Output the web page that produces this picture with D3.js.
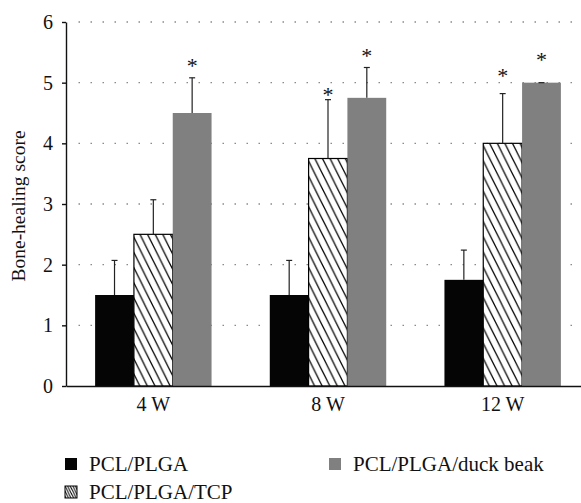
<!DOCTYPE html>
<html>
<head>
<meta charset="utf-8">
<script src="https://cdn.jsdelivr.net/npm/d3@7"></script>
<style>
  body { margin: 0; background: #fff; }
  text { font-family: "Liberation Serif", "Times New Roman", serif; fill: #111; }
</style>
</head>
<body>
<div class="canvas"></div>
<script>
// Data
const groups = ["4 W", "8 W", "12 W"];
const series = ["PCL/PLGA", "PCL/PLGA/TCP", "PCL/PLGA/duck beak"];
const means = [
  [1.5, 2.5, 4.5],
  [1.5, 3.75, 4.75],
  [1.75, 4.0, 5.0]
];
const errors = [
  [0.57, 0.57, 0.58],
  [0.57, 0.97, 0.5],
  [0.49, 0.82, 0.0]
];
// asterisk heights (score units), null = no mark
const stars = [
  [null, null, 5.33],
  [null, 4.85, 5.49],
  [null, 5.16, 5.43]
];
const y_ticks = [0, 1, 2, 3, 4, 5, 6];

// Settings
const width = 581;
const height = 503;
const plot_left = 66;
const plot_right = 590;
const plot_top = 22;
const plot_bottom = 386;
const fills = ["#050505", "url(#hatch)", "#808080"];
const legend_fills = ["#050505", "url(#hatch-small)", "#808080"];
const tick_font = "20px";

const svg = d3.select(".canvas").append("svg")
  .attr("width", width)
  .attr("height", height);

const defs = svg.append("defs");

// hatch patterns
function add_hatch(id, w, sw) {
  const h = w * 2;
  const p = defs.append("pattern")
    .attr("id", id)
    .attr("patternUnits", "userSpaceOnUse")
    .attr("width", w)
    .attr("height", h);
  p.append("rect").attr("width", w).attr("height", h).attr("fill", "#fff");
  p.append("path")
    .attr("d", `M${-w / 2},${-w} L${w * 1.5},${h + w} M${-w},0 L${w / 2},${h + w} M${w / 2},${-w} L${w * 2},${h}`)
    .attr("stroke", "#000").attr("stroke-width", sw);
}
add_hatch("hatch", 7.6, 1.2);
add_hatch("hatch-small", 2.6, 1);

const x0 = d3.scaleBand().domain(groups)
  .range([plot_left, plot_right])
  .paddingInner(1 / 3).paddingOuter(1 / 6);
const x1 = d3.scaleBand().domain(d3.range(series.length))
  .range([0, x0.bandwidth()]);
const y = d3.scaleLinear().domain([0, 6]).range([plot_bottom, plot_top]);

// dotted grid lines
svg.append("g")
  .selectAll("line")
  .data(y_ticks.filter(t => t > 0))
  .enter()
  .append("line")
  .attr("x1", plot_left + 12.5)
  .attr("x2", plot_right)
  .attr("y1", d => y(d))
  .attr("y2", d => y(d))
  .attr("stroke", "#8a8a8a")
  .attr("stroke-width", 1.3)
  .attr("stroke-dasharray", "1.5,10.5");

// bars
const cells = [];
groups.forEach((g, gi) => {
  series.forEach((s, si) => {
    cells.push({ g: g, si: si, v: means[gi][si], e: errors[gi][si], star: stars[gi][si] });
  });
});

svg.append("g")
  .selectAll("rect")
  .data(cells)
  .enter()
  .append("rect")
  .attr("x", d => x0(d.g) + x1(d.si))
  .attr("y", d => y(d.v))
  .attr("width", x1.bandwidth())
  .attr("height", d => y(0) - y(d.v))
  .attr("fill", d => fills[d.si])
  .attr("stroke", d => d.si == 1 ? "#000" : "none")
  .attr("stroke-width", 1.2);

// error bars (upper only)
const err = svg.append("g").attr("stroke", "#222").attr("stroke-width", 1.2);
cells.forEach(d => {
  const cx = x0(d.g) + x1(d.si) + x1.bandwidth() / 2;
  if (d.e > 0) {
    err.append("line").attr("x1", cx).attr("x2", cx)
      .attr("y1", y(d.v)).attr("y2", y(d.v + d.e));
  }
  err.append("line").attr("x1", cx - 3).attr("x2", cx + 3)
    .attr("y1", y(d.v + d.e)).attr("y2", y(d.v + d.e));
});

// asterisks
svg.append("g")
  .selectAll("text")
  .data(cells.filter(d => d.star != null))
  .enter()
  .append("text")
  .attr("x", d => x0(d.g) + x1(d.si) + x1.bandwidth() / 2)
  .attr("y", d => y(d.star) + 10)
  .attr("text-anchor", "middle")
  .attr("font-size", "22px")
  .attr("fill", "#222")
  .text("*");

// axes
svg.append("g")
  .attr("transform", `translate(${plot_left},0)`)
  .call(d3.axisLeft(y).tickValues(y_ticks).tickFormat(d3.format("d"))
    .tickSizeInner(4).tickSizeOuter(0).tickPadding(9));

svg.append("g")
  .attr("transform", `translate(0,${plot_bottom})`)
  .call(d3.axisBottom(x0).tickSizeInner(0).tickSizeOuter(0).tickPadding(11));

svg.selectAll(".domain").attr("stroke", "#111").attr("stroke-width", 1.4);
svg.selectAll(".tick line").attr("stroke", "#111").attr("stroke-width", 1.4);
svg.selectAll(".tick text").attr("fill", "#111")
  .attr("font-family", "'Liberation Serif', serif")
  .attr("font-size", tick_font);

// y title
svg.append("text")
  .attr("transform", `translate(25,${(plot_top + plot_bottom) / 2 + 2}) rotate(-90)`)
  .attr("text-anchor", "middle")
  .attr("font-size", "19.5px")
  .text("Bone-healing score");

// legend
const legend_pos = [[65, 458], [65, 486], [329, 458]];
const legend = svg.append("g")
  .selectAll("g")
  .data(series)
  .enter()
  .append("g")
  .attr("transform", (d, i) => `translate(${legend_pos[i][0]},${legend_pos[i][1]})`);
legend.append("rect")
  .attr("width", 12)
  .attr("height", 12)
  .attr("fill", (d, i) => legend_fills[i])
  .attr("stroke", (d, i) => i == 1 ? "#000" : "none")
  .attr("stroke-width", 1);
legend.append("text")
  .attr("x", 24)
  .attr("y", 13)
  .attr("font-size", "21px")
  .text(d => d);
</script>
</body>
</html>
